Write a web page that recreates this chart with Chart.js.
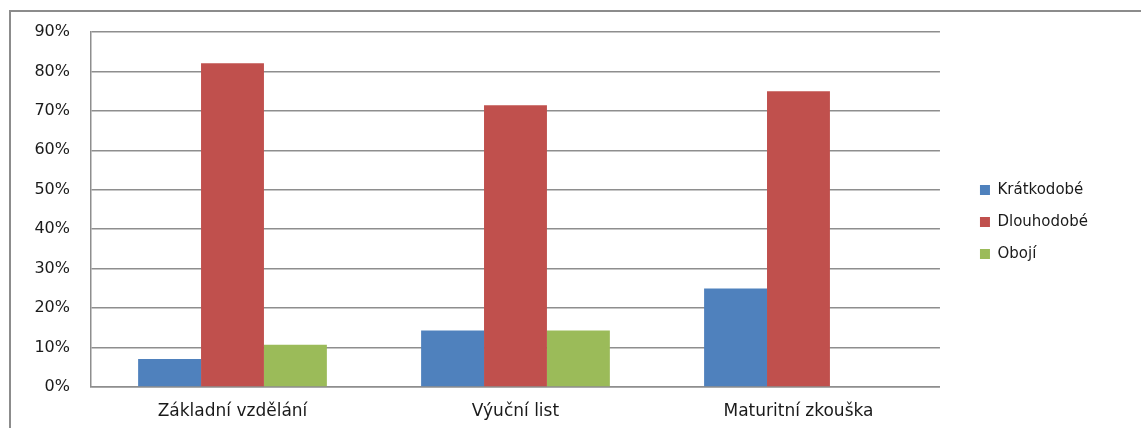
<!DOCTYPE html>
<html>
<head>
<meta charset="utf-8">
<script src="https://cdn.jsdelivr.net/npm/chart.js@4"></script>
<style>
  body { margin: 0; background: #fff; overflow: hidden; }
  #frame {
    position: absolute; left: 9px; top: 10px; width: 1300px; height: 600px;
    border-left: 2px solid #8c8c8c; border-top: 2px solid #8c8c8c;
  }
  #chart-container { position: absolute; left: 0; top: 0; width: 1141px; height: 428px; }
</style>
</head>
<body>
<div id="frame"></div>
<div id="chart-container"><canvas id="chart"></canvas></div>
<script>
const categories = ["Základní vzdělání", "Výuční list", "Maturitní zkouška"];
const seriesNames = ["Krátkodobé", "Dlouhodobé", "Obojí"];
const kratkodobe = [7.1, 14.3, 25.0];
const dlouhodobe = [82.1, 71.4, 75.0];
const oboji = [10.7, 14.3, 0];
const yTicks = [0, 10, 20, 30, 40, 50, 60, 70, 80, 90];
const colors = ["#4F81BD", "#C0504D", "#9BBB59"];

const fontName = "'DejaVu Sans', sans-serif";
const gridColor = "#8e8e8e";

// move the legend up a little, the x labels need the bottom space
const legendShift = {
  id: "legendShift",
  afterLayout: function (chart) {
    chart.legend.top -= 8;
    chart.legend.bottom -= 8;
  }
};

var chartData = {
  labels: categories,
  datasets: [kratkodobe, dlouhodobe, oboji].map(function (values, i) {
    return {
      label: seriesNames[i],
      data: values,
      backgroundColor: colors[i],
      borderWidth: 0,
      categoryPercentage: 0.667,
      barPercentage: 1.0,
    };
  }),
};

var chartOptions = {
  responsive: true,
  maintainAspectRatio: false,
  animation: false,
  layout: {
    padding: { left: 0, right: 43, top: 32, bottom: 0 }
  },
  scales: {
    x: {
      grid: { display: false },
      border: { display: true, color: gridColor, width: 1.5 },
      ticks: {
        color: "#1a1a1a",
        padding: 6,
        font: { family: fontName, size: 17 }
      },
      afterFit: function (scale) { scale.height = 41; }
    },
    y: {
      min: 0,
      max: 90,
      afterBuildTicks: function (scale) {
        scale.ticks = yTicks.map(function (v) { return { value: v }; });
      },
      grid: { color: gridColor, lineWidth: 1.5, drawTicks: false },
      border: { display: true, color: gridColor, width: 1.5 },
      ticks: {
        color: "#1a1a1a",
        padding: 21,
        font: { family: fontName, size: 16 },
        callback: function (v) { return v + "%"; }
      },
      afterFit: function (scale) { scale.width = 91; }
    },
    gap: {
      type: "linear",
      position: "right",
      display: true,
      grid: { display: false },
      border: { display: false },
      ticks: { display: false },
      afterFit: function (scale) { scale.width = 23; }
    }
  },
  plugins: {
    legend: {
      position: "right",
      align: "center",
      labels: {
        boxWidth: 10,
        boxHeight: 10,
        padding: 17,
        color: "#1a1a1a",
        font: { family: fontName, size: 15 }
      }
    },
    tooltip: { enabled: false }
  }
};

window.myChart = new Chart(document.getElementById("chart"), {
  type: "bar",
  data: chartData,
  options: chartOptions,
  plugins: [legendShift],
});
</script>
</body>
</html>
